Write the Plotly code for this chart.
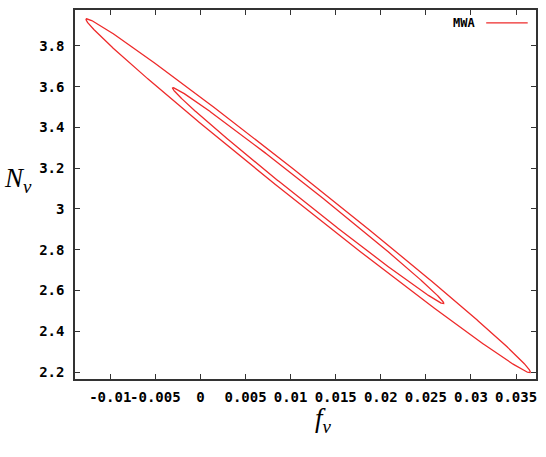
import numpy as np
import plotly.graph_objects as go

# Fisher-forecast ellipse parameters (MWA)
center_f = 0.01195
center_N = 3.065
sigma_f = 0.00992
sigma_N = 0.3495
rho = -0.9964
delta_chi2_levels = [2.30, 6.17]   # 1-sigma and 2-sigma contours

x_tickvals = [-0.01, -0.005, 0, 0.005, 0.01, 0.015, 0.02, 0.025, 0.03, 0.035]
x_ticktext = ["-0.01", "-0.005", "0", "0.005", "0.01", "0.015", "0.02", "0.025", "0.03", "0.035"]
y_tickvals = [2.2, 2.4, 2.6, 2.8, 3.0, 3.2, 3.4, 3.6, 3.8]
y_ticktext = ["2.2", "2.4", "2.6", "2.8", "3", "3.2", "3.4", "3.6", "3.8"]

cov = np.array([[sigma_f**2, rho*sigma_f*sigma_N],
                [rho*sigma_f*sigma_N, sigma_N**2]])
L = np.linalg.cholesky(cov)
t = np.linspace(0, 2*np.pi, 721)
circ = np.vstack([np.cos(t), np.sin(t)])

RED = "#ee2a2a"
fig = go.Figure()
for k in delta_chi2_levels:
    pts = np.sqrt(k) * (L @ circ)
    fig.add_trace(go.Scatter(x=center_f + pts[0], y=center_N + pts[1], mode="lines",
                             line=dict(color=RED, width=1.3), showlegend=False,
                             hoverinfo="skip"))

tickfont = dict(family="DejaVu Sans Mono", size=14, color="black", weight="bold")
axis_common = dict(showgrid=False, zeroline=False, showline=True, linecolor="#333333",
                   linewidth=1.5, mirror="allticks", ticks="inside", ticklen=5,
                   tickcolor="#333333", tickwidth=1.3, tickfont=tickfont, tickangle=0)

fig.update_layout(
    width=546, height=457,
    margin=dict(l=75, r=8, t=9, b=78),
    paper_bgcolor="white", plot_bgcolor="white",
    xaxis=dict(range=[-0.01391, 0.03721], tickvals=x_tickvals, ticktext=x_ticktext,
               ticklabelstandoff=4, **axis_common),
    yaxis=dict(range=[2.166, 3.976], tickvals=y_tickvals, ticktext=y_ticktext,
               ticklabelstandoff=6, **axis_common),
    showlegend=False,
)

# axis titles
fig.add_annotation(x=-0.124, y=0.54, xref="paper", yref="paper", showarrow=False,
                   text="<i>N</i><sub><i>ν</i></sub>", xanchor="center", yanchor="middle",
                   font=dict(family="Liberation Serif", size=27, color="black"))
fig.add_annotation(x=0.54, y=-0.11, xref="paper", yref="paper", showarrow=False,
                   text="<i>f</i><sub><i>ν</i></sub>", xanchor="center", yanchor="middle",
                   font=dict(family="Liberation Serif", size=27, color="black"))

# key (gnuplot-style: label left of sample line)
fig.add_annotation(x=0.873, y=0.965, xref="paper", yref="paper", showarrow=False,
                   text="MWA", xanchor="right", yanchor="middle",
                   font=dict(family="DejaVu Sans Mono", size=12, color="black", weight="bold"))
fig.add_shape(type="line", xref="paper", yref="paper", x0=0.892, x1=0.982, y0=0.965, y1=0.965,
              line=dict(color=RED, width=1.3))

fig.write_html("out.html")
